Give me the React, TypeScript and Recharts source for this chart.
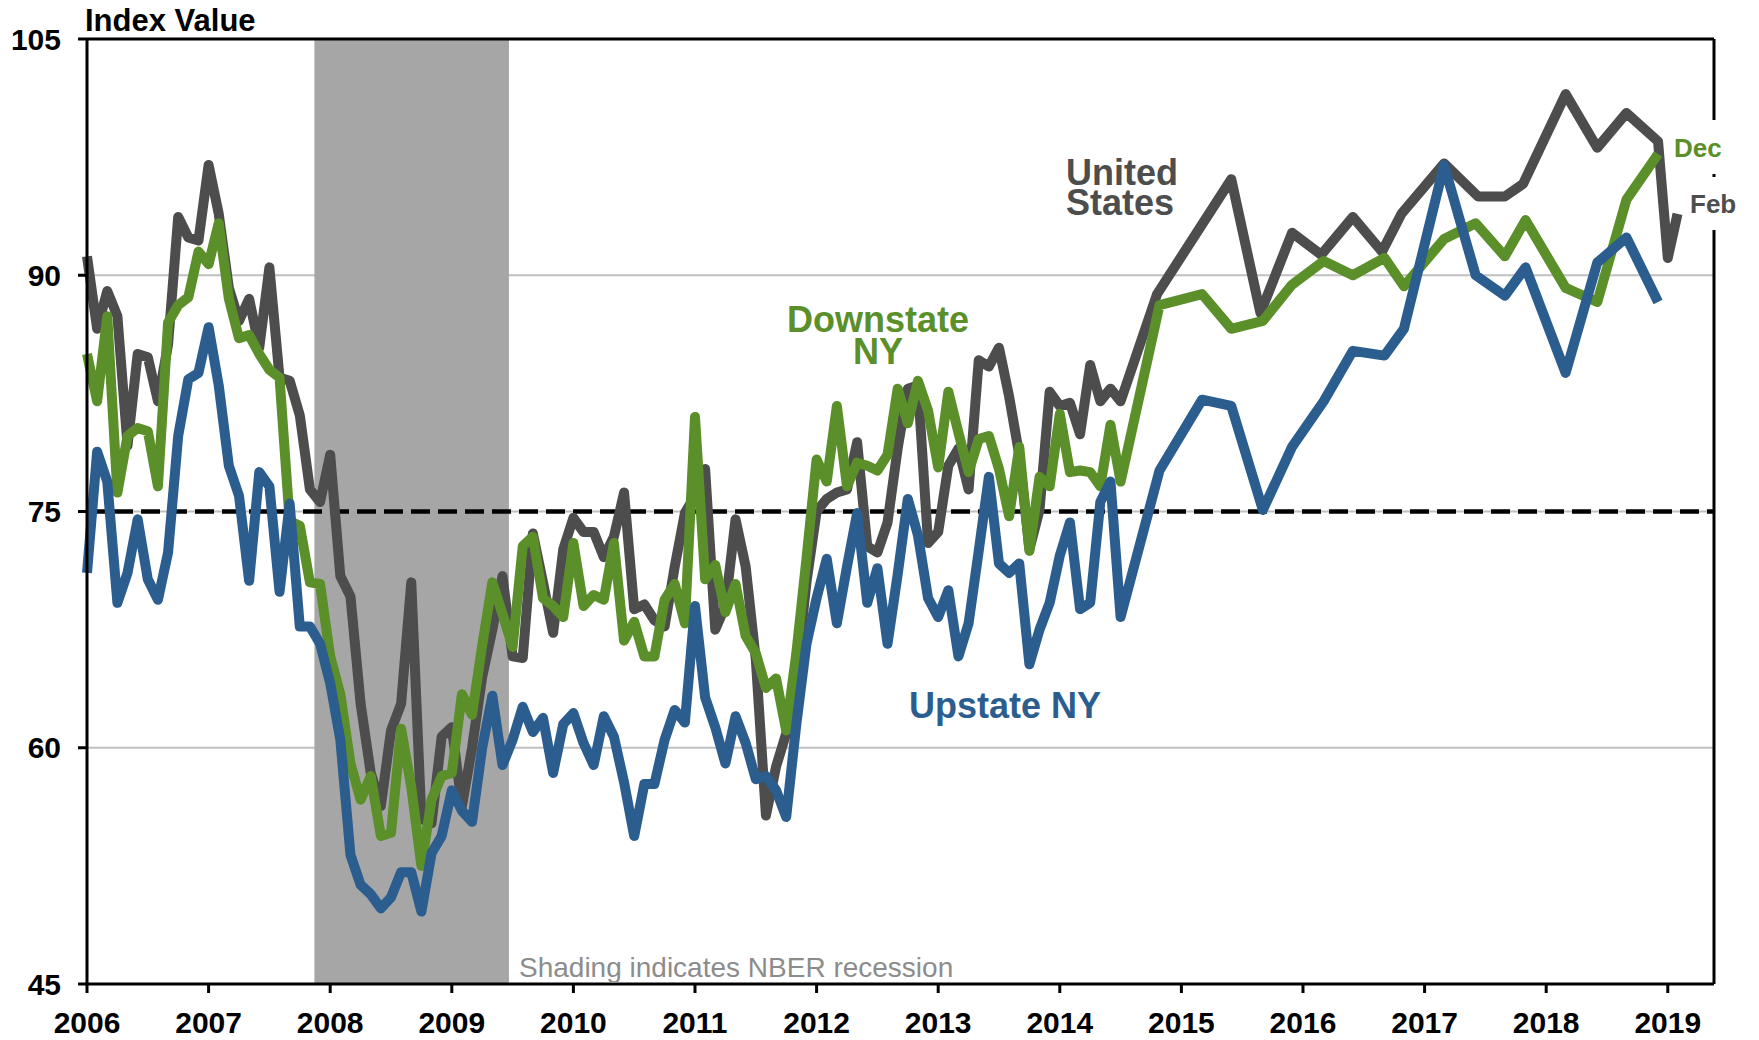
import React from "react"
import { LineChart, Line, XAxis, YAxis, CartesianGrid, ReferenceArea, ReferenceLine } from "recharts"

const FONT = '"Liberation Sans", Arial, Helvetica, sans-serif'
const GRAY = "#4d4d4d"
const GREEN = "#5b8f29"
const BLUE = "#2b5d8e"

// monthly readings, Jan 2006 .. Jul 2014
const START_YEAR = 2006
const usMonthly = [
  91.2, 86.6, 89, 87.4, 79.2, 85, 84.8, 82, 85.6, 93.7, 92.4, 92.2,
  97, 93.9, 89.2, 87.1, 88.5, 85.4, 90.5, 83.5, 83.3, 81.1, 76.4, 75.6,
  78.6, 70.9, 69.6, 62.8, 58.4, 56.3, 61.1, 62.8, 70.5, 55.5, 55.2, 60.7,
  61.3, 56.3, 60, 64.5, 67.5, 70.9, 65.8, 65.7, 73.6, 70.5, 67.3, 72.6,
  74.6, 73.7, 73.7, 72.1, 73.4, 76.2, 68.8, 69.1, 68.1, 67.7, 71.5, 74.9,
  76, 77.7, 67.5, 69, 74.5, 71.5, 65.6, 55.7, 58.8, 60.9, 64.5, 70.5,
  75, 75.8, 76.2, 76.4, 79.4, 72.8, 72.4, 74.3, 79, 82.8, 83, 73,
  73.7, 77.9, 79, 76.4, 84.6, 84.2, 85.4, 82.3, 78.6, 72.6, 75.1, 82.6,
  81.7, 81.9, 79.9, 84.3, 82, 82.8, 82,
]
const downstateMonthly = [
  85, 82, 87.4, 76.2, 79.8, 80.3, 80.1, 76.6, 87, 88.1, 88.6, 91.5,
  90.7, 93.3, 88.5, 86, 86.2, 85, 84, 83.5, 74.4, 74.1, 70.5, 70.4,
  65.8, 63.4, 59, 56.7, 58.2, 54.4, 54.6, 61.2, 57.5, 52.5, 56.7, 58.2,
  58.4, 63.4, 62.1, 66.5, 70.5, 68.5, 66.4, 72.8, 73.4, 69.5, 69, 68.3,
  73, 69, 69.7, 69.4, 73, 66.8, 68, 65.8, 65.8, 69.4, 70.4, 67.9,
  81, 70.7, 71.6, 68.6, 70.4, 67.1, 66, 63.8, 64.4, 61.1, 66, 72,
  78.3, 76.9, 81.7, 76.6, 78.1, 77.9, 77.6, 78.6, 82.8, 80.6, 83.3, 81.4,
  77.8, 82.6, 80, 77.5, 79.6, 79.8, 77.7, 74.7, 79.1, 72.5, 77.2, 76.6,
  81.2, 77.5, 77.6, 77.5, 76.6, 80.5, 76.9,
]
const upstateMonthly = [
  71.1, 78.8, 76.9, 69.2, 71.1, 74.5, 70.7, 69.4, 72.4, 79.8, 83.4, 83.8,
  86.7, 83, 77.9, 76, 70.6, 77.5, 76.6, 69.9, 75.5, 67.7, 67.7, 66.6,
  64.1, 60.5, 53.2, 51.3, 50.7, 49.8, 50.5, 52.1, 52.1, 49.6, 53.3, 54.4,
  57.3, 56, 55.3, 60, 63.3, 58.9, 60.5, 62.6, 61, 61.9, 58.4, 61.5,
  62.2, 60.3, 58.9, 62, 60.7, 57.8, 54.4, 57.7, 57.7, 60.5, 62.4, 61.6,
  69, 63.2, 61.3, 59, 62, 60.3, 58, 58.2, 57.3, 55.6, 61.5, 66.6,
  69.5, 72, 67.9, 71.5, 74.9, 69.2, 71.4, 66.6, 71, 75.8, 73.5, 69.5,
  68.3, 70, 65.8, 67.9, 72.5, 77.2, 71.7, 71.1, 71.7, 65.3, 67.5, 69.2,
  72.2, 74.3, 68.8, 69.2, 75.6, 76.9, 68.3,
]

// later, sparser readings
const usLateDates = [
  2014.8, 2015.41, 2015.65, 2015.91, 2016.15, 2016.41, 2016.65, 2016.81, 2017.16,
  2017.44, 2017.66, 2017.81, 2018.16, 2018.42, 2018.66, 2018.92, 2019.0, 2019.08,
]
const usLate = [88.8, 96.1, 87.6, 92.7, 91.3, 93.7, 91.5, 93.9, 97.1, 95, 95, 95.8, 101.5, 98.1, 100.3, 98.5, 91.1, 93.9]

const nyLateDates = [
  2014.82, 2015.17, 2015.41, 2015.67, 2015.91, 2016.17, 2016.41, 2016.67, 2016.83,
  2017.16, 2017.42, 2017.66, 2017.83, 2018.16, 2018.42, 2018.66, 2018.92,
]
const downstateLate = [88.1, 88.8, 86.6, 87.1, 89.4, 90.9, 90, 91.1, 89.3, 92.3, 93.3, 91.2, 93.5, 89.2, 88.3, 94.8, 97.7]
const upstateLate = [77.6, 82.1, 81.7, 75.1, 79.1, 82, 85.2, 84.9, 86.6, 97, 90, 88.7, 90.5, 83.8, 90.8, 92.4, 88.3]

const yearTicks = [2006, 2007, 2008, 2009, 2010, 2011, 2012, 2013, 2014, 2015, 2016, 2017, 2018, 2019]
const valueTicks = [45, 60, 75, 90, 105]
const X_END = 2019.38
const RECESSION_START = 2007.87
const RECESSION_END = 2009.47
const THRESHOLD = 75

const monthlyDates = usMonthly.map((_, i) => START_YEAR + i / 12)
const toPoints = (dates: number[], values: number[]) => values.map((v, i) => ({ t: dates[i], v }))

const usData = [...toPoints(monthlyDates, usMonthly), ...toPoints(usLateDates, usLate)]
const downstateData = [...toPoints(monthlyDates, downstateMonthly), ...toPoints(nyLateDates, downstateLate)]
const upstateData = [...toPoints(monthlyDates, upstateMonthly), ...toPoints(nyLateDates, upstateLate)]

const tickStyle = { fill: "#000", fontSize: 30, fontWeight: "bold", fontFamily: FONT }

export default function App() {
  return (
    <div style={{ position: "absolute", left: 0, top: 0, width: 1759, height: 1040, background: "#fff" }}>
      <LineChart width={1759} height={1040} margin={{ top: 39, right: 45, left: 27, bottom: 16 }}>
        <CartesianGrid vertical={false} stroke="#c0c0c0" strokeWidth={2} />
        <ReferenceArea x1={RECESSION_START} x2={RECESSION_END} fill="#a6a6a6" fillOpacity={1} stroke="none" />
        <XAxis
          dataKey="t"
          type="number"
          domain={[START_YEAR, X_END]}
          ticks={yearTicks}
          height={40}
          tick={tickStyle}
          tickSize={9}
          tickMargin={19}
          axisLine={{ stroke: "#000", strokeWidth: 3 }}
          tickLine={{ stroke: "#000", strokeWidth: 3 }}
        />
        <YAxis
          type="number"
          domain={[45, 105]}
          ticks={valueTicks}
          width={60}
          tick={tickStyle}
          tickSize={9}
          tickMargin={17}
          axisLine={{ stroke: "#000", strokeWidth: 3 }}
          tickLine={{ stroke: "#000", strokeWidth: 3 }}
        />
        <ReferenceLine y={105} stroke="#000" strokeWidth={3} />
        <ReferenceLine x={X_END} stroke="#000" strokeWidth={3} />
        <ReferenceLine y={THRESHOLD} stroke="#000" strokeWidth={4.5} strokeDasharray="19 8" />
        <Line data={usData} dataKey="v" type="linear" stroke={GRAY} strokeWidth={10} strokeLinejoin="round" dot={false} activeDot={false} isAnimationActive={false} />
        <Line data={downstateData} dataKey="v" type="linear" stroke={GREEN} strokeWidth={10} strokeLinejoin="round" dot={false} activeDot={false} isAnimationActive={false} />
        <Line data={upstateData} dataKey="v" type="linear" stroke={BLUE} strokeWidth={10} strokeLinejoin="round" dot={false} activeDot={false} isAnimationActive={false} />
      </LineChart>

      {/* annotations */}
      <svg width={1759} height={1040} style={{ position: "absolute", left: 0, top: 0, pointerEvents: "none" }}>
        <g fontFamily={FONT} fontWeight="bold">
          <text x={85} y={31} fontSize={31} fill="#000">Index Value</text>
          <text x={1066} y={185} fontSize={36} fill={GRAY}>
            <tspan x={1066}>United</tspan>
            <tspan x={1066} dy={30}>States</tspan>
          </text>
          <text x={878} y={332} fontSize={36} fill={GREEN} textAnchor="middle">
            <tspan x={878}>Downstate</tspan>
            <tspan x={878} dy={32}>NY</tspan>
          </text>
          <text x={909} y={718} fontSize={36} fill={BLUE}>Upstate NY</text>
          <rect x={1671} y={120} width={60} height={54} fill="#fff" />
          <rect x={1686} y={177} width={62} height={53} fill="#fff" />
          <text x={1674} y={157} fontSize={26} fill={GREEN}>Dec</text>
          <text x={1690} y={213} fontSize={26} fill={GRAY}>Feb</text>
        </g>
        <text x={519} y={977} fontSize={28} fill="#8c8c8c" fontFamily={FONT}>Shading indicates NBER recession</text>
      </svg>
    </div>
  )
}
